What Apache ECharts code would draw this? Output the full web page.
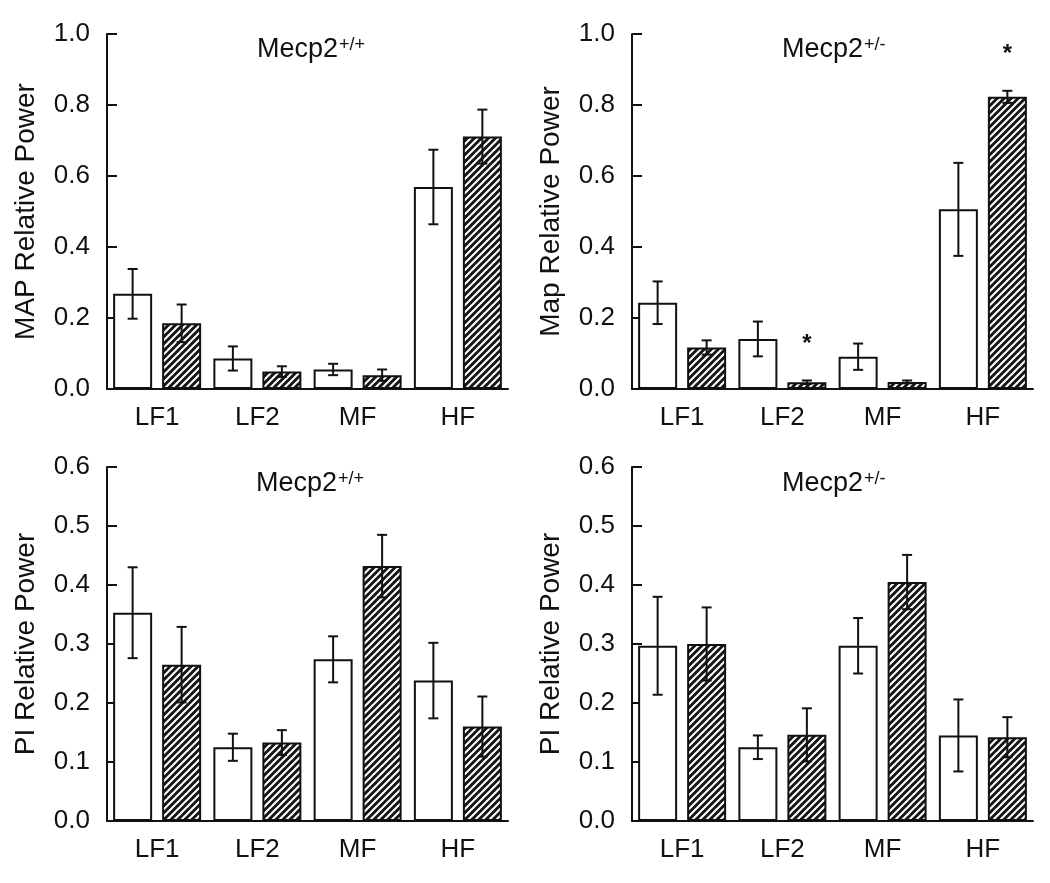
<!DOCTYPE html>
<html>
<head>
<meta charset="utf-8">
<script src="https://cdn.jsdelivr.net/npm/echarts@6/dist/echarts.min.js"></script>
<style>
html,body{margin:0;padding:0;background:#fff;}
#chart{width:1050px;height:883px;}
</style>
</head>
<body>
<div id="chart"></div>
<script>
// ---- data ----
const categories = ['LF1', 'LF2', 'MF', 'HF'];

// MAP, Mecp2+/+
const mapWtOpen = [0.268, 0.086, 0.055, 0.569];
const mapWtOpenErr = [0.070, 0.034, 0.016, 0.105];
const mapWtHatch = [0.185, 0.049, 0.039, 0.711];
const mapWtHatchErr = [0.053, 0.015, 0.016, 0.076];
const mapWtHatchSig = [false, false, false, false];

// MAP, Mecp2+/-
const mapHetOpen = [0.243, 0.141, 0.091, 0.506];
const mapHetOpenErr = [0.060, 0.049, 0.037, 0.131];
const mapHetHatch = [0.117, 0.019, 0.020, 0.823];
const mapHetHatchErr = [0.020, 0.005, 0.004, 0.017];
const mapHetHatchSig = [false, true, false, true];

// PI, Mecp2+/+
const piWtOpen = [0.353, 0.125, 0.274, 0.238];
const piWtOpenErr = [0.077, 0.023, 0.039, 0.064];
const piWtHatch = [0.265, 0.133, 0.432, 0.160];
const piWtHatchErr = [0.064, 0.021, 0.053, 0.051];
const piWtHatchSig = [false, false, false, false];

// PI, Mecp2+/-
const piHetOpen = [0.297, 0.125, 0.297, 0.145];
const piHetOpenErr = [0.083, 0.020, 0.047, 0.061];
const piHetHatch = [0.300, 0.146, 0.405, 0.142];
const piHetHatchErr = [0.062, 0.045, 0.046, 0.034];
const piHetHatchSig = [false, false, false, false];

const mapAxisMax = 1.0, mapAxisStep = 0.2;
const piAxisMax = 0.6, piAxisStep = 0.1;

const panelTitles = [['Mecp2', '+/+'], ['Mecp2', '+/-'], ['Mecp2', '+/+'], ['Mecp2', '+/-']];
const yNames = ['MAP Relative Power', 'Map Relative Power', 'PI Relative Power', 'PI Relative Power'];

// ---- styling ----
const FONT = "'Liberation Sans', Arial, Helvetica, sans-serif";
const INK = '#111';
const BAR_W = 39;
const GAP_PX = 10;
const OFFSET = (BAR_W + GAP_PX) / 2;

function makeHatch() {
  const s = 7;
  const c = document.createElement('canvas');
  c.width = s; c.height = s;
  const g = c.getContext('2d');
  g.fillStyle = '#161616';
  g.fillRect(0, 0, s, s);
  g.strokeStyle = '#ffffff';
  g.lineWidth = 2;
  g.beginPath();
  g.moveTo(-1, s + 1); g.lineTo(s + 1, -1);
  g.moveTo(-1 - s, s + 1); g.lineTo(1, -1);
  g.moveTo(-1, 2 * s + 1); g.lineTo(2 * s + 1, -1);
  g.stroke();
  return c;
}
const hatch = { image: makeHatch(), repeat: 'repeat' };

const grids = [
  { left: 107, top: 34, width: 401, height: 355 },
  { left: 632, top: 34, width: 401, height: 355 },
  { left: 107, top: 467, width: 401, height: 354 },
  { left: 632, top: 467, width: 401, height: 354 }
];

const panels = [
  { open: mapWtOpen, openErr: mapWtOpenErr, hatch: mapWtHatch, hatchErr: mapWtHatchErr, sig: mapWtHatchSig, max: mapAxisMax, step: mapAxisStep },
  { open: mapHetOpen, openErr: mapHetOpenErr, hatch: mapHetHatch, hatchErr: mapHetHatchErr, sig: mapHetHatchSig, max: mapAxisMax, step: mapAxisStep },
  { open: piWtOpen, openErr: piWtOpenErr, hatch: piWtHatch, hatchErr: piWtHatchErr, sig: piWtHatchSig, max: piAxisMax, step: piAxisStep },
  { open: piHetOpen, openErr: piHetOpenErr, hatch: piHetHatch, hatchErr: piHetHatchErr, sig: piHetHatchSig, max: piAxisMax, step: piAxisStep }
];

function errRender(side) {
  return function (params, api) {
    const x = api.value(0), m = api.value(1), e = api.value(2), sig = api.value(3);
    const t = api.coord([x, m + e]);
    const b = api.coord([x, m - e]);
    const cx = t[0] + side * OFFSET;
    const cap = 5;
    const ls = { stroke: INK, lineWidth: 2 };
    const children = [
      { type: 'line', shape: { x1: cx, y1: t[1], x2: cx, y2: b[1] }, style: ls },
      { type: 'line', shape: { x1: cx - cap, y1: t[1], x2: cx + cap, y2: t[1] }, style: ls },
      { type: 'line', shape: { x1: cx - cap, y1: b[1], x2: cx + cap, y2: b[1] }, style: ls }
    ];
    if (sig) {
      children.push({ type: 'text', style: { text: '*', x: cx, y: t[1] - 36, fill: INK, font: 'bold 24px ' + FONT, align: 'center', verticalAlign: 'middle' } });
    }
    return { type: 'group', children: children };
  };
}

const xAxes = [], yAxes = [], series = [], titles = [];
panels.forEach((p, i) => {
  xAxes.push({
    type: 'category', gridIndex: i, data: categories,
    axisLine: { lineStyle: { color: INK, width: 2 } },
    axisTick: { show: false },
    axisLabel: { color: INK, fontSize: 26, fontFamily: FONT, margin: 16 }
  });
  yAxes.push({
    type: 'value', gridIndex: i, min: 0, max: p.max, interval: p.step,
    name: yNames[i], nameLocation: 'middle', nameGap: 67,
    nameTextStyle: { color: INK, fontSize: 28, fontFamily: FONT },
    axisLine: { show: true, lineStyle: { color: INK, width: 2 } },
    axisTick: { show: true, inside: true, length: 10, lineStyle: { color: INK, width: 2 } },
    axisLabel: { color: INK, fontSize: 26, fontFamily: FONT, margin: 17, formatter: v => v.toFixed(1) },
    splitLine: { show: false }
  });
  series.push({
    type: 'bar', xAxisIndex: i, yAxisIndex: i, data: p.open,
    barWidth: BAR_W, barGap: (GAP_PX / BAR_W * 100) + '%',
    itemStyle: { color: '#fff', borderColor: INK, borderWidth: 2 },
    silent: true, z: 2
  });
  series.push({
    type: 'bar', xAxisIndex: i, yAxisIndex: i, data: p.hatch,
    barWidth: BAR_W, barGap: (GAP_PX / BAR_W * 100) + '%',
    itemStyle: { color: hatch, borderColor: INK, borderWidth: 2 },
    silent: true, z: 2
  });
  series.push({
    type: 'custom', xAxisIndex: i, yAxisIndex: i, z: 5, silent: true,
    renderItem: errRender(-1), encode: { x: 0, y: 1 },
    data: categories.map((c, k) => [k, p.open[k], p.openErr[k], 0])
  });
  series.push({
    type: 'custom', xAxisIndex: i, yAxisIndex: i, z: 5, silent: true,
    renderItem: errRender(1), encode: { x: 0, y: 1 },
    data: categories.map((c, k) => [k, p.hatch[k], p.hatchErr[k], p.sig[k] ? 1 : 0])
  });
  const titlePos = [[257, 36], [782, 36], [256, 470], [782, 470]][i];
  titles.push({
    text: '{m|' + panelTitles[i][0] + '}{s|' + panelTitles[i][1] + '}',
    left: titlePos[0], top: titlePos[1], padding: 0,
    textStyle: {
      fontWeight: 'normal',
      rich: {
        m: { fontSize: 27, fontFamily: FONT, color: INK, fontWeight: 'normal', verticalAlign: 'bottom' },
        s: { fontSize: 18, fontFamily: FONT, color: INK, fontWeight: 'normal', verticalAlign: 'top', padding: [0, 0, 0, 1] }
      }
    }
  });
});

const chart = echarts.init(document.getElementById('chart'), null, { renderer: 'canvas' });
chart.setOption({
  animation: false,
  backgroundColor: '#fff',
  title: titles,
  grid: grids,
  xAxis: xAxes,
  yAxis: yAxes,
  series: series
});
</script>
</body>
</html>
